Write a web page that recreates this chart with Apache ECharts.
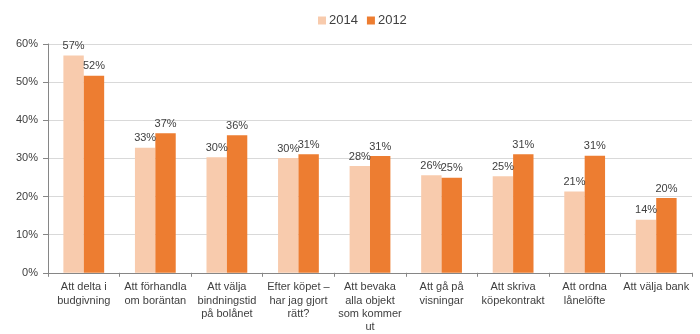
<!DOCTYPE html>
<html><head><meta charset="utf-8">
<script src="https://cdn.jsdelivr.net/npm/echarts@6/dist/echarts.min.js"></script>
<style>html,body{margin:0;padding:0;background:#fff}#c{width:700px;height:334px}</style>
</head><body><div id="c"></div>
<script>
const categories = [
  "Att delta i\nbudgivning",
  "Att förhandla\nom boräntan",
  "Att välja\nbindningstid\npå bolånet",
  "Efter köpet –\nhar jag gjort\nrätt?",
  "Att bevaka\nalla objekt\nsom kommer\nut",
  "Att gå på\nvisningar",
  "Att skriva\nköpekontrakt",
  "Att ordna\nlånelöfte",
  "Att välja bank"
];
const values2014 = [57.0, 32.8, 30.3, 30.1, 28.0, 25.6, 25.3, 21.3, 13.9];
const values2012 = [51.7, 36.6, 36.1, 31.1, 30.6, 24.9, 31.1, 30.7, 19.6];
const yTicks = [0, 10, 20, 30, 40, 50, 60];

const font = "'Liberation Sans', Arial, sans-serif";
const txt = '#404040';
const chart = echarts.init(document.getElementById('c'), null, {renderer: 'canvas'});
const lbl = {show: true, position: 'top', distance: 4, color: txt, fontSize: 11, fontFamily: font,
  formatter: p => Math.round(p.value) + '%'};
chart.setOption({
  animation: false,
  textStyle: {fontFamily: font},
  legend: {
    top: 9, left: 313, itemWidth: 8, itemHeight: 8, itemGap: 9, icon: 'rect',
    textStyle: {color: txt, fontSize: 13, fontFamily: font, padding: [0, 0, 0, -2]},
    data: ['2014', '2012']
  },
  grid: {left: 48, right: 8, top: 44, bottom: 61, containLabel: false},
  xAxis: {
    type: 'category', data: categories,
    axisLine: {lineStyle: {color: '#868686', width: 1}},
    axisTick: {show: true, length: 4, lineStyle: {color: '#868686'}},
    axisLabel: {color: txt, fontSize: 11, fontFamily: font, interval: 0, margin: 8, lineHeight: 13.3, align: 'center'}
  },
  yAxis: {
    type: 'value', min: yTicks[0], max: yTicks[yTicks.length - 1], interval: 10,
    axisLine: {show: true, lineStyle: {color: '#868686'}},
    axisTick: {show: true, length: 5, lineStyle: {color: '#868686'}},
    axisLabel: {color: txt, fontSize: 11, fontFamily: font, margin: 10, formatter: v => v + '%'},
    splitLine: {lineStyle: {color: '#D9D9D9'}}
  },
  series: [
    {name: '2014', type: 'bar', data: values2014, barGap: '0%', barCategoryGap: '43%',
     itemStyle: {color: '#F8CBAD'}, label: lbl},
    {name: '2012', type: 'bar', data: values2012, barGap: '0%', barCategoryGap: '43%',
     itemStyle: {color: '#ED7D31'}, label: lbl}
  ]
});
</script></body></html>
